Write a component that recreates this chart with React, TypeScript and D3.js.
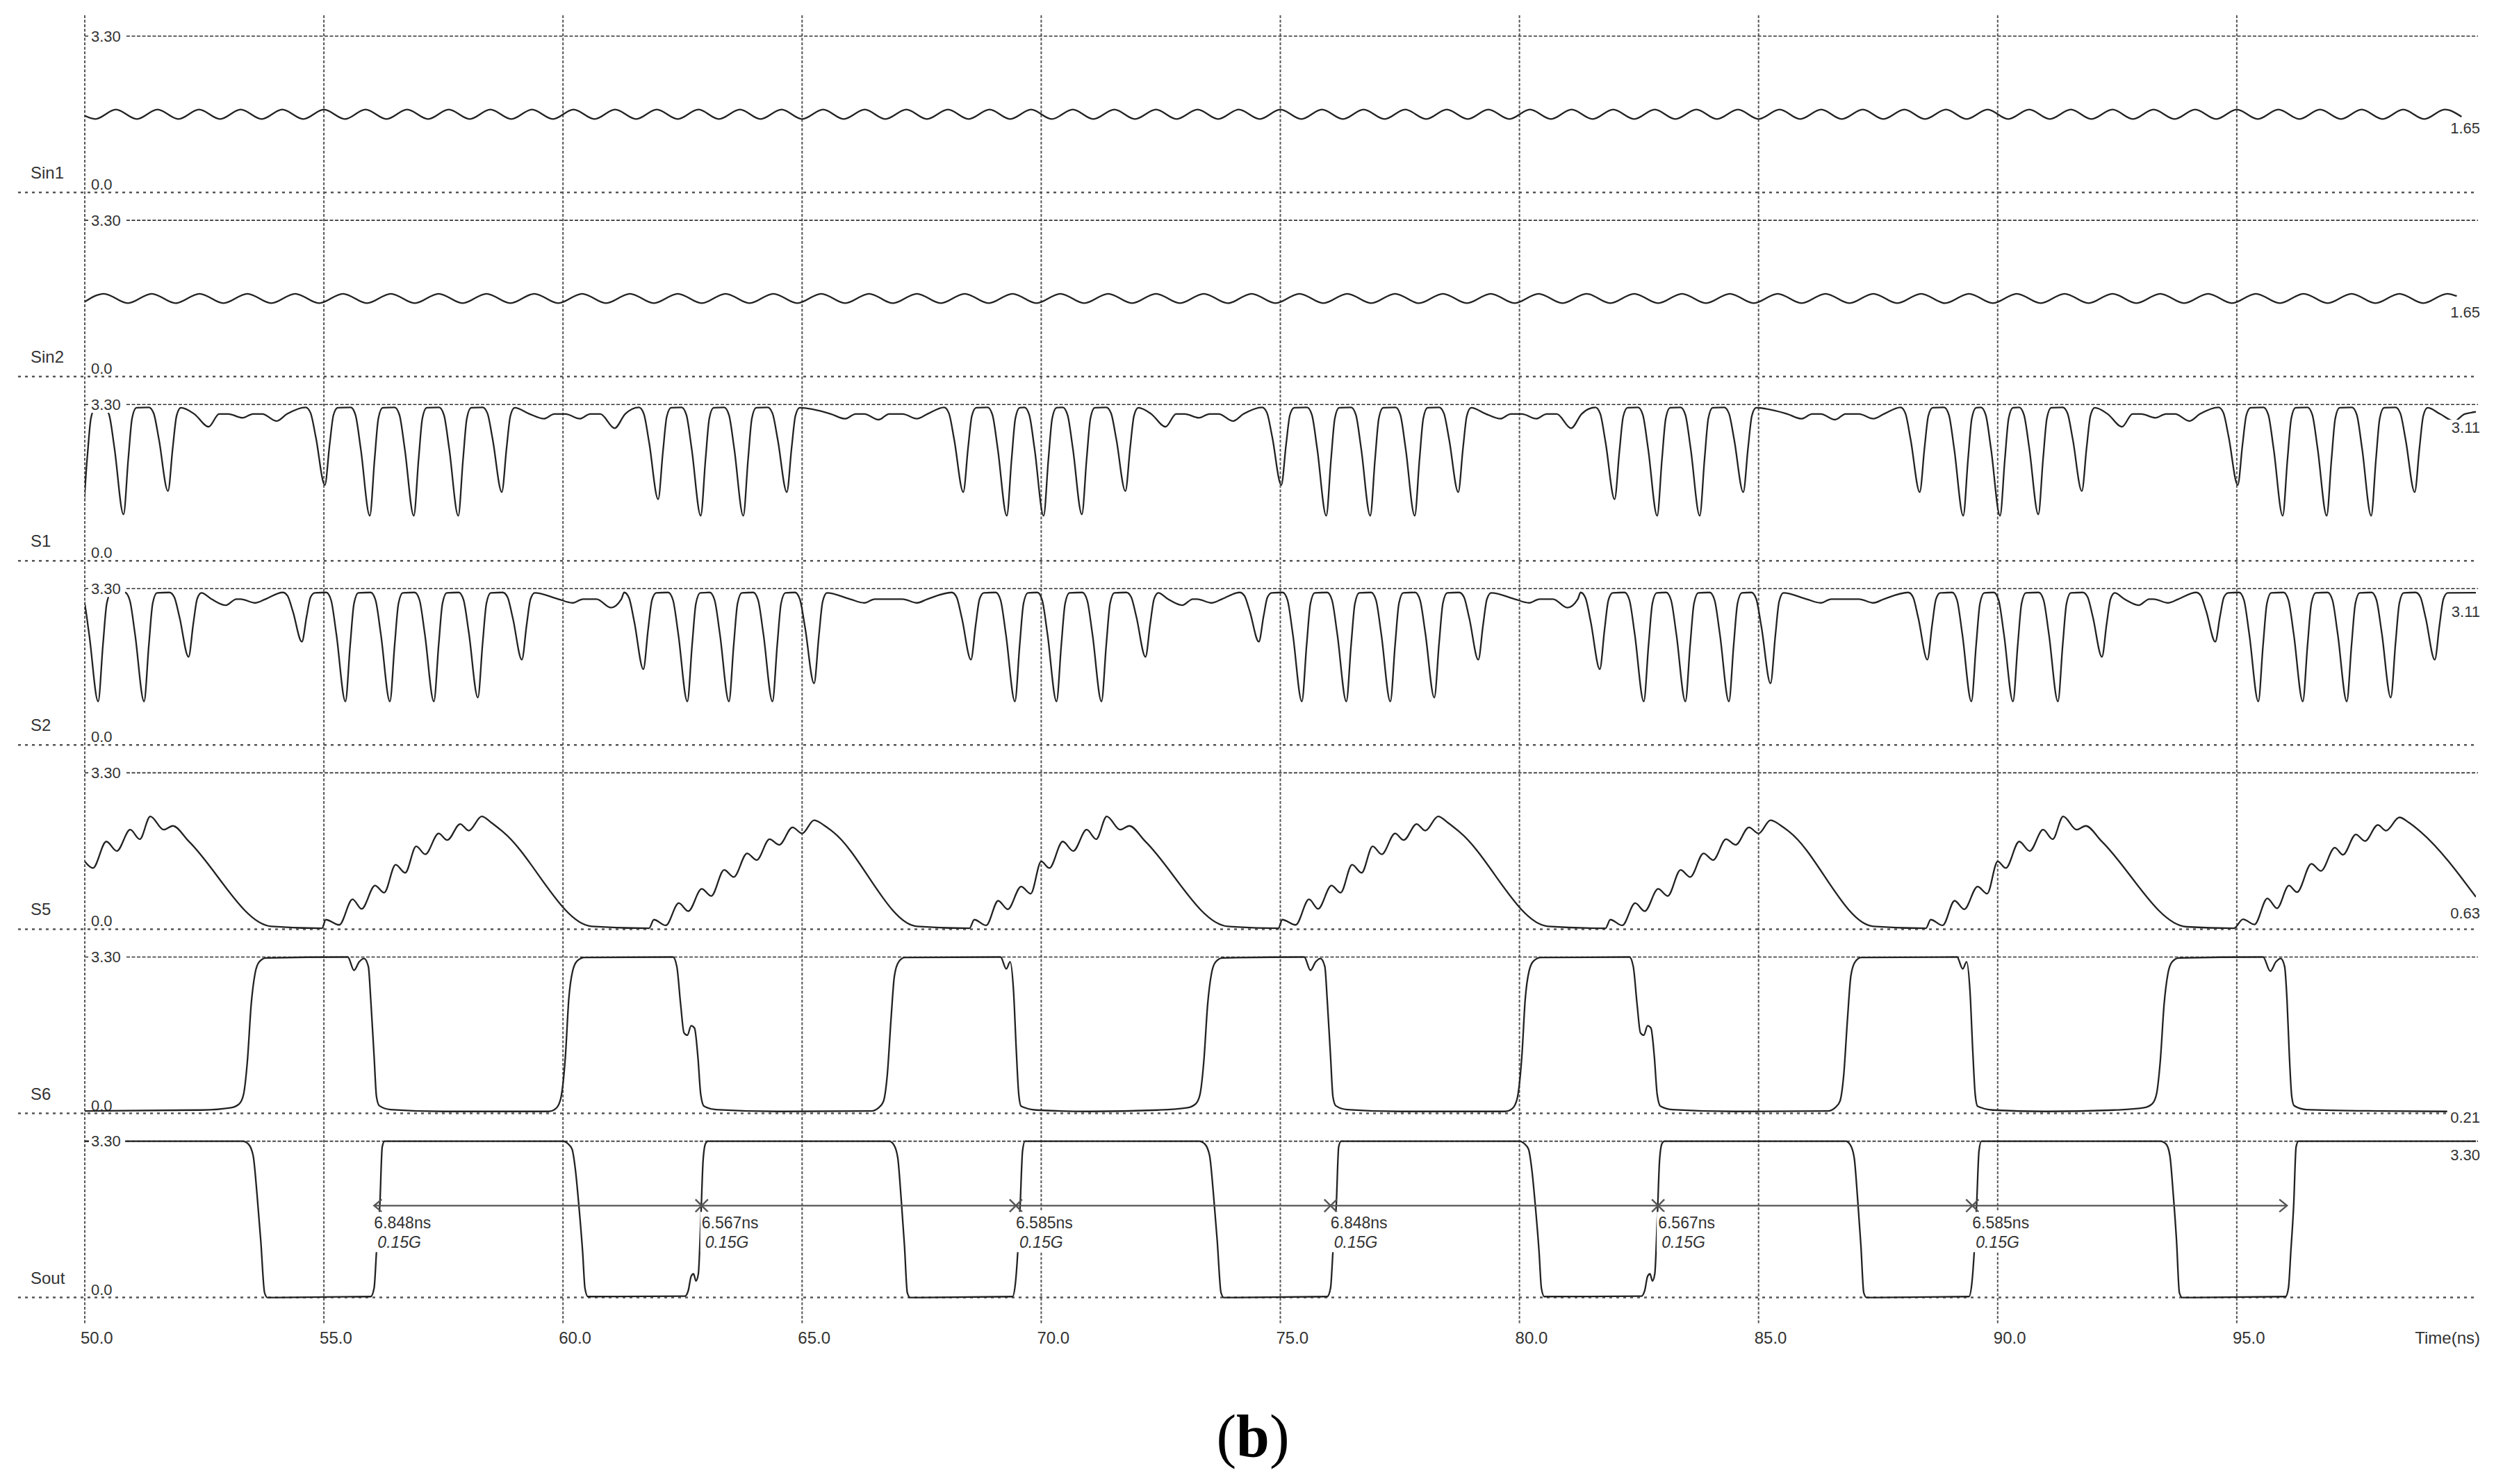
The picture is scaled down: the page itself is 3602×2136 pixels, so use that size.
import * as d3 from 'd3';

const W = 3602;
const H = 2136;

// ---- axes / labels ----
const timeDomain = [50, 100];
const timeTicks = [50, 55, 60, 65, 70, 75, 80, 85, 90, 95];
const signalNames = ['Sin1', 'Sin2', 'S1', 'S2', 'S5', 'S6', 'Sout'];
const endLabels = ['1.65', '1.65', '3.11', '3.11', '0.63', '0.21', '3.30'];
const endValues = [1.65, 1.65, 3.11, 3.11, 0.63, 0.21, 3.3];
const vMax = 3.3;

// ---- Sout period markers ----
const markerTimes = [56.05, 62.9, 69.47, 76.05, 82.9, 89.47, 96.05];
const markerLabels = ['6.848ns', '6.567ns', '6.585ns', '6.848ns', '6.567ns', '6.585ns'];
const freqLabel = '0.15G';

// ---- Sin1: turning points (trough, peak, trough ...) ----
const sin1Turns = [
  50.22, 50.65, 51.09, 51.52, 51.96, 52.39, 52.83, 53.26, 53.7, 54.13,
  54.57, 55.0, 55.44, 55.87, 56.31, 56.74, 57.18, 57.61, 58.05, 58.48,
  58.92, 59.35, 59.79, 60.22, 60.66, 61.09, 61.53, 61.96, 62.4, 62.83,
  63.26, 63.7, 64.13, 64.57, 65.0, 65.44, 65.87, 66.31, 66.74, 67.18,
  67.61, 68.05, 68.48, 68.92, 69.35, 69.79, 70.22, 70.66, 71.09, 71.53,
  71.96, 72.4, 72.83, 73.27, 73.7, 74.13, 74.57, 75.0, 75.44, 75.87,
  76.31, 76.74, 77.18, 77.61, 78.05, 78.48, 78.92, 79.35, 79.79, 80.22,
  80.66, 81.09, 81.53, 81.96, 82.4, 82.83, 83.26, 83.7, 84.13, 84.57,
  85.0, 85.44, 85.87, 86.31, 86.74, 87.18, 87.61, 88.05, 88.48, 88.92,
  89.35, 89.79, 90.22, 90.66, 91.09, 91.53, 91.96, 92.4, 92.83, 93.26,
  93.7, 94.13, 94.57, 95.0, 95.44, 95.87, 96.31, 96.74, 97.18, 97.61,
  98.05, 98.48, 98.92, 99.35,
];
const sin1Levels = [1.55, 1.75];
const sin1Ends = [[50.0, 1.62], [99.7, 1.6]];

// ---- Sin2: turning points (peak, trough, peak ...) ----
const sin2Turns = [
  50.4, 50.9, 51.4, 51.9, 52.4, 52.9, 53.4, 53.9, 54.4, 54.9,
  55.4, 55.9, 56.4, 56.9, 57.4, 57.9, 58.4, 58.9, 59.4, 59.9,
  60.4, 60.9, 61.4, 61.9, 62.4, 62.9, 63.4, 63.9, 64.4, 64.9,
  65.4, 65.9, 66.4, 66.9, 67.4, 67.9, 68.4, 68.9, 69.4, 69.9,
  70.4, 70.9, 71.4, 71.9, 72.4, 72.9, 73.4, 73.9, 74.4, 74.9,
  75.4, 75.9, 76.4, 76.9, 77.4, 77.9, 78.4, 78.9, 79.4, 79.9,
  80.4, 80.9, 81.4, 81.9, 82.4, 82.9, 83.4, 83.9, 84.4, 84.9,
  85.4, 85.9, 86.4, 86.9, 87.4, 87.9, 88.4, 88.9, 89.4, 89.9,
  90.4, 90.9, 91.4, 91.9, 92.4, 92.9, 93.4, 93.9, 94.4, 94.9,
  95.4, 95.9, 96.4, 96.9, 97.4, 97.9, 98.4, 98.9, 99.4,
];
const sin2Levels = [1.75, 1.55];
const sin2Ends = [[50.0, 1.58], [99.6, 1.7]];

// ---- S1 / S2: dips [time, minimum voltage] ----
const s1High = 3.24;
const s1Flat = 3.1;
const s1Dips = [
  [49.95, 1.0], [50.81, 0.98], [51.74, 1.47], [52.59, 2.83], [53.3, 3.02], [54.01, 2.95],
  [55.02, 1.6], [55.96, 0.95], [56.88, 0.95], [57.81, 0.95], [58.72, 1.45], [59.6, 3.0], [60.35, 3.0], [61.08, 2.8],
  [61.99, 1.3], [62.88, 0.95], [63.77, 0.95], [64.68, 1.45], [65.9, 3.0], [66.6, 2.98], [67.4, 3.0],
  [68.37, 1.45], [69.28, 0.95], [70.05, 0.95], [70.85, 0.98], [71.76, 1.47], [72.6, 2.83], [73.3, 3.02], [74.01, 2.95],
  [75.02, 1.6], [75.96, 0.95], [76.88, 0.95], [77.81, 0.95], [78.72, 1.45], [79.6, 3.0], [80.35, 3.0], [81.08, 2.8],
  [81.99, 1.3], [82.88, 0.95], [83.77, 0.95], [84.68, 1.45], [85.9, 3.0], [86.6, 2.98], [87.4, 3.0],
  [88.37, 1.45], [89.28, 0.95], [90.05, 0.95], [90.85, 0.98], [91.76, 1.47], [92.6, 2.83], [93.3, 3.02], [94.01, 2.95],
  [95.02, 1.6], [95.96, 0.95], [96.88, 0.95], [97.81, 0.95], [98.72, 1.45], [99.55, 2.95],
];
const s2High = 3.22;
const s2Flat = 3.08;
const s2Dips = [
  [50.28, 0.92], [51.24, 0.92], [52.17, 1.86], [52.95, 2.95], [53.56, 3.0], [54.54, 2.18],
  [55.45, 0.92], [56.38, 0.92], [57.3, 0.92], [58.22, 1.0], [59.14, 1.8], [60.2, 3.0], [61.0, 2.9],
  [61.68, 1.6], [62.6, 0.92], [63.47, 0.92], [64.38, 0.92], [65.25, 1.3], [66.3, 3.0], [67.4, 3.0],
  [68.53, 1.8], [69.45, 0.92], [70.32, 0.92], [71.26, 0.92], [72.18, 1.86], [72.95, 2.95], [73.56, 3.0], [74.55, 2.18],
  [75.45, 0.92], [76.38, 0.92], [77.3, 0.92], [78.22, 1.0], [79.14, 1.8], [80.2, 3.0], [81.0, 2.9],
  [81.68, 1.6], [82.6, 0.92], [83.47, 0.92], [84.38, 0.92], [85.25, 1.3], [86.3, 3.0], [87.4, 3.0],
  [88.53, 1.8], [89.45, 0.92], [90.32, 0.92], [91.26, 0.92], [92.18, 1.86], [92.95, 2.95], [93.56, 3.0], [94.55, 2.18],
  [95.45, 0.92], [96.38, 0.92], [97.3, 0.92], [98.22, 1.0], [99.14, 1.8],
];

// ---- S5 ----
const s5Points = [
  [50.0, 1.43], [50.17, 1.29], [50.45, 1.85], [50.67, 1.65], [50.95, 2.1], [51.15, 1.9], [51.37, 2.38], [51.65, 2.1], [51.84, 2.18], [52.17, 1.86], [53.9, 0.06], [54.96, 0.02],
  [55.04, 0.2], [55.32, 0.09], [55.6, 0.63], [55.79, 0.43], [56.07, 0.92], [56.26, 0.77], [56.5, 1.36], [56.7, 1.19], [56.93, 1.75], [57.12, 1.58], [57.4, 2.02], [57.58, 1.88], [57.85, 2.22], [58.03, 2.08], [58.3, 2.38], [58.5, 2.25], [58.75, 2.05], [60.6, 0.06], [61.8, 0.02],
  [61.9, 0.2], [62.15, 0.08], [62.42, 0.55], [62.62, 0.38], [62.9, 0.85], [63.1, 0.7], [63.37, 1.25], [63.57, 1.1], [63.85, 1.6], [64.05, 1.46], [64.32, 1.9], [64.52, 1.78], [64.8, 2.15], [65.0, 2.02], [65.25, 2.3], [65.45, 2.2], [65.65, 2.05], [67.4, 0.06], [68.5, 0.02],
  [68.6, 0.2], [68.85, 0.08], [69.1, 0.6], [69.3, 0.42], [69.58, 0.9], [69.78, 0.75], [70.0, 1.43], [70.17, 1.29], [70.45, 1.85], [70.67, 1.65], [70.95, 2.1], [71.15, 1.9], [71.37, 2.38], [71.65, 2.1], [71.84, 2.18], [72.17, 1.86], [73.9, 0.06], [74.96, 0.02],
  [75.04, 0.2], [75.32, 0.09], [75.6, 0.63], [75.79, 0.43], [76.07, 0.92], [76.26, 0.77], [76.5, 1.36], [76.7, 1.19], [76.93, 1.75], [77.12, 1.58], [77.4, 2.02], [77.58, 1.88], [77.85, 2.22], [78.03, 2.08], [78.3, 2.38], [78.5, 2.25], [78.75, 2.05], [80.6, 0.06], [81.8, 0.02],
  [81.9, 0.2], [82.15, 0.08], [82.42, 0.55], [82.62, 0.38], [82.9, 0.85], [83.1, 0.7], [83.37, 1.25], [83.57, 1.1], [83.85, 1.6], [84.05, 1.46], [84.32, 1.9], [84.52, 1.78], [84.8, 2.15], [85.0, 2.02], [85.25, 2.3], [85.45, 2.2], [85.65, 2.05], [87.4, 0.06], [88.5, 0.02],
  [88.6, 0.2], [88.85, 0.08], [89.1, 0.6], [89.3, 0.42], [89.58, 0.9], [89.78, 0.75], [90.0, 1.43], [90.17, 1.29], [90.45, 1.85], [90.67, 1.65], [90.95, 2.1], [91.15, 1.9], [91.37, 2.38], [91.65, 2.1], [91.84, 2.18], [92.17, 1.86], [93.95, 0.05], [94.94, 0.02],
  [95.13, 0.21], [95.37, 0.1], [95.64, 0.65], [95.84, 0.44], [96.09, 0.92], [96.26, 0.78], [96.56, 1.38], [96.76, 1.23], [97.05, 1.72], [97.22, 1.57], [97.49, 2.0], [97.68, 1.86], [97.95, 2.2], [98.12, 2.08], [98.4, 2.36], [98.6, 2.25], [98.85, 2.05], [100.0, 0.68],
];

// ---- S6 ----
const s6Points = [
  [50.0, 0.05], [52.45, 0.07], [53.06, 0.12], [53.23, 0.2], [53.32, 0.4], [53.4, 1.1], [53.48, 2.3], [53.56, 2.95], [53.65, 3.2], [53.79, 3.28], [55.5, 3.3], [55.63, 3.02], [55.74, 3.2], [55.84, 3.27], [55.93, 3.1], [55.98, 2.4], [56.05, 1.2], [56.1, 0.35], [56.16, 0.16], [56.4, 0.08], [57.5, 0.04],
  [59.7, 0.04], [59.85, 0.1], [59.95, 0.3], [60.05, 1.2], [60.12, 2.4], [60.2, 3.0], [60.3, 3.22], [60.45, 3.29], [62.3, 3.3], [62.38, 3.1], [62.46, 2.3], [62.53, 1.7], [62.6, 1.65], [62.68, 1.85], [62.75, 1.8], [62.82, 1.2], [62.88, 0.4], [62.95, 0.15], [63.2, 0.08], [64.5, 0.04],
  [66.45, 0.05], [66.6, 0.12], [66.7, 0.25], [66.78, 0.8], [66.86, 2.0], [66.93, 2.9], [67.02, 3.2], [67.15, 3.29], [69.15, 3.3], [69.27, 3.05], [69.35, 3.2], [69.42, 2.6], [69.48, 1.3], [69.53, 0.4], [69.58, 0.15], [69.9, 0.07], [71.0, 0.04],
  [72.45, 0.07], [73.06, 0.12], [73.23, 0.2], [73.32, 0.4], [73.4, 1.1], [73.48, 2.3], [73.56, 2.95], [73.65, 3.2], [73.79, 3.28], [75.5, 3.3], [75.63, 3.02], [75.74, 3.2], [75.84, 3.27], [75.93, 3.1], [75.98, 2.4], [76.05, 1.2], [76.1, 0.35], [76.16, 0.16], [76.4, 0.08], [77.5, 0.04],
  [79.7, 0.04], [79.85, 0.1], [79.95, 0.3], [80.05, 1.2], [80.12, 2.4], [80.2, 3.0], [80.3, 3.22], [80.45, 3.29], [82.3, 3.3], [82.38, 3.1], [82.46, 2.3], [82.53, 1.7], [82.6, 1.65], [82.68, 1.85], [82.75, 1.8], [82.82, 1.2], [82.88, 0.4], [82.95, 0.15], [83.2, 0.08], [84.5, 0.04],
  [86.45, 0.05], [86.6, 0.12], [86.7, 0.25], [86.78, 0.8], [86.86, 2.0], [86.93, 2.9], [87.02, 3.2], [87.15, 3.29], [89.15, 3.3], [89.27, 3.05], [89.35, 3.2], [89.42, 2.6], [89.48, 1.3], [89.53, 0.4], [89.58, 0.15], [89.9, 0.07], [91.0, 0.04],
  [92.45, 0.07], [93.06, 0.12], [93.23, 0.2], [93.32, 0.4], [93.4, 1.1], [93.48, 2.3], [93.56, 2.95], [93.65, 3.2], [93.79, 3.28], [95.55, 3.3], [95.7, 3.0], [95.82, 3.2], [95.92, 3.27], [96.0, 3.1], [96.05, 2.4], [96.1, 1.2], [96.15, 0.35], [96.2, 0.16], [96.45, 0.08], [98.0, 0.05], [99.4, 0.04],
];

// ---- Sout ----
const soutPoints = [
  [50.0, 3.3], [53.3, 3.3], [53.42, 3.24], [53.52, 3.0], [53.6, 2.2], [53.68, 1.2], [53.76, 0.1], [53.82, 0.0], [55.98, 0.02], [56.05, 0.2], [56.1, 0.97], [56.17, 1.96], [56.22, 3.18], [56.27, 3.3],
  [60.0, 3.3], [60.1, 3.25], [60.19, 3.13], [60.26, 2.69], [60.33, 1.96], [60.41, 0.97], [60.46, 0.19], [60.52, 0.02], [62.55, 0.03], [62.62, 0.15], [62.68, 0.45], [62.73, 0.5], [62.78, 0.35], [62.83, 0.5], [62.88, 1.6], [62.93, 2.9], [62.98, 3.25], [63.03, 3.3],
  [66.82, 3.3], [66.92, 3.22], [67.0, 2.95], [67.07, 2.1], [67.14, 1.1], [67.2, 0.1], [67.26, 0.0], [69.4, 0.02], [69.46, 0.3], [69.51, 0.97], [69.56, 1.96], [69.61, 3.1], [69.66, 3.3],
  [73.3, 3.3], [73.42, 3.24], [73.52, 3.0], [73.6, 2.2], [73.68, 1.2], [73.76, 0.1], [73.82, 0.0], [75.98, 0.02], [76.05, 0.2], [76.1, 0.97], [76.17, 1.96], [76.22, 3.18], [76.27, 3.3],
  [80.0, 3.3], [80.1, 3.25], [80.19, 3.13], [80.26, 2.69], [80.33, 1.96], [80.41, 0.97], [80.46, 0.19], [80.52, 0.02], [82.55, 0.03], [82.62, 0.15], [82.68, 0.45], [82.73, 0.5], [82.78, 0.35], [82.83, 0.5], [82.88, 1.6], [82.93, 2.9], [82.98, 3.25], [83.03, 3.3],
  [86.82, 3.3], [86.92, 3.22], [87.0, 2.95], [87.07, 2.1], [87.14, 1.1], [87.2, 0.1], [87.26, 0.0], [89.4, 0.02], [89.46, 0.3], [89.51, 0.97], [89.56, 1.96], [89.61, 3.1], [89.66, 3.3],
  [93.4, 3.3], [93.52, 3.24], [93.6, 3.0], [93.67, 2.2], [93.74, 1.2], [93.8, 0.1], [93.86, 0.0], [96.02, 0.02], [96.08, 0.2], [96.13, 0.97], [96.19, 1.96], [96.24, 3.18], [96.29, 3.3], [100.0, 3.3],
];

// ---- layout ----
const plotLeft = 122;
const plotRight = 3563;
const lineRight = 3566;
const panelTop0 = 52;
const panelPitch = 265.1;
const panelH = 225;
const FONT = '"Liberation Sans", Arial, sans-serif';
const TXT = '#333';

type Pt = [number, number];

function turnsToPoints(turns: number[], levels: number[], ends: number[][]): Pt[] {
  const pts: Pt[] = [[ends[0][0], ends[0][1]]];
  turns.forEach((t, i) => pts.push([t, levels[i % 2]]));
  pts.push([ends[1][0], ends[1][1]]);
  return pts;
}

// deep dips: rounded shoulder, sharp bottom, quicker recovery; shallow ones ride on the flat level
function dipsToPoints(dips: number[][], hi: number, flat: number): Pt[] {
  const pts: Pt[] = [[49, hi]];
  dips.forEach(([t, v]) => {
    const d = hi - v;
    if (d < 0.6) {
      pts.push([t - 0.3, flat], [t, v], [t + 0.22, flat]);
    } else {
      pts.push(
        [t - 0.4, hi], [t - 0.3, hi - 0.07 * d], [t - 0.19, hi - 0.38 * d],
        [t, v], [t + 0.1, hi - 0.48 * d], [t + 0.18, hi - 0.1 * d], [t + 0.27, hi - 0.01],
      );
    }
  });
  pts.push([101, hi]);
  return pts.sort((a, b) => a[0] - b[0]);
}

const traces: Pt[][] = [
  turnsToPoints(sin1Turns, sin1Levels, sin1Ends),
  turnsToPoints(sin2Turns, sin2Levels, sin2Ends),
  dipsToPoints(s1Dips, s1High, s1Flat),
  dipsToPoints(s2Dips, s2High, s2Flat),
  s5Points as Pt[],
  s6Points as Pt[],
  soutPoints as Pt[],
];

export default function App() {
  const x = d3.scaleLinear().domain(timeDomain).range([plotLeft, plotRight]);
  const panels = signalNames.map((_, i) => {
    const top = panelTop0 + i * panelPitch;
    return { top, bottom: top + panelH, y: d3.scaleLinear().domain([0, vMax]).range([top + panelH, top]) };
  });
  const soutY = panels[6].y;
  const markY = soutY(1.94);

  return (
    <svg width={W} height={H} style={{ position: 'absolute', left: 0, top: 0, background: '#fff' }}>
      <rect width={W} height={H} fill="#fff" />
      <defs>
        <clipPath id="plotClip">
          <rect x={plotLeft} y={0} width={plotRight - plotLeft} height={H} />
        </clipPath>
      </defs>

      {/* vertical time grid */}
      {timeTicks.map((t) => (
        <line key={t} x1={x(t)} x2={x(t)} y1={22} y2={1907} stroke="#555" strokeWidth={2} strokeDasharray="4 2.5" />
      ))}

      {/* panel reference lines */}
      {panels.map((p, i) => (
        <g key={i}>
          <line x1={plotLeft} x2={lineRight} y1={p.top} y2={p.top} stroke="#333" strokeWidth={1.6} strokeDasharray="5 2.5" />
          <line x1={26} x2={lineRight} y1={p.bottom} y2={p.bottom} stroke="#555" strokeWidth={2.5} strokeDasharray="4 6" />
        </g>
      ))}

      {/* traces */}
      <g clipPath="url(#plotClip)">
        {traces.map((pts, i) => {
          const line = d3.line<Pt>().x((d) => x(d[0])).y((d) => panels[i].y(d[1])).curve(d3.curveMonotoneX);
          return <path key={i} d={line(pts) || ''} fill="none" stroke="#222" strokeWidth={2.3} strokeLinejoin="round" />;
        })}
      </g>

      {/* left voltage labels and signal names */}
      {panels.map((p, i) => (
        <g key={'l' + i} fontFamily={FONT} fill={TXT}>
          <rect x={128} y={p.top - 12} width={52} height={24} fill="#fff" />
          <text x={131} y={p.top} fontSize={22} dominantBaseline="central">3.30</text>
          <text x={131} y={p.bottom - 4} fontSize={22}>0.0</text>
          <text x={44} y={p.bottom - 20} fontSize={24}>{signalNames[i]}</text>
        </g>
      ))}

      {/* right end value labels */}
      {panels.map((p, i) => {
        const cy = p.y(endValues[i]) + 20;
        return (
          <g key={'r' + i} fontFamily={FONT} fill={TXT}>
            <rect x={3522} y={cy - 11} width={50} height={22} fill="#fff" />
            <text x={3569} y={cy} fontSize={22} textAnchor="end" dominantBaseline="central">{endLabels[i]}</text>
          </g>
        );
      })}

      {/* Sout period markers */}
      <g stroke="#555" strokeWidth={2.4} fill="none">
        <line x1={x(markerTimes[0])} x2={x(markerTimes[markerTimes.length - 1])} y1={markY} y2={markY} />
        <polyline points={`${x(markerTimes[0]) + 11},${markY - 9} ${x(markerTimes[0])},${markY} ${x(markerTimes[0]) + 11},${markY + 9}`} />
        {markerTimes.slice(1, -1).map((t) => (
          <g key={t}>
            <line x1={x(t) - 9} x2={x(t) + 9} y1={markY - 9} y2={markY + 9} />
            <line x1={x(t) - 9} x2={x(t) + 9} y1={markY + 9} y2={markY - 9} />
          </g>
        ))}
        <polyline points={`${x(markerTimes[6]) - 11},${markY - 9} ${x(markerTimes[6])},${markY} ${x(markerTimes[6]) - 11},${markY + 9}`} />
      </g>
      {markerLabels.map((lab, i) => {
        const mx = x(markerTimes[i]);
        return (
          <g key={'m' + i} fontFamily={FONT} fill={TXT} fontSize={23}>
            <rect x={mx - 2} y={markY + 9} width={92} height={58} fill="#fff" />
            <text x={mx} y={markY + 25} dominantBaseline="central">{lab}</text>
            <text x={mx + 5} y={markY + 53} dominantBaseline="central" fontStyle="italic">{freqLabel}</text>
          </g>
        );
      })}

      {/* time axis labels */}
      {timeTicks.map((t) => (
        <text key={'t' + t} x={x(t) - 6} y={1925} fontFamily={FONT} fontSize={24} fill={TXT} dominantBaseline="central">
          {t.toFixed(1)}
        </text>
      ))}
      <text x={3569} y={1925} fontFamily={FONT} fontSize={24} fill={TXT} textAnchor="end" dominantBaseline="central">
        Time(ns)
      </text>

      {/* caption */}
      <text x={1803} y={2096} textAnchor="middle" fontFamily={'"Liberation Serif", "Times New Roman", serif'} fontSize={86} fill="#000">
        (<tspan fontWeight="bold">b</tspan>)
      </text>
    </svg>
  );
}
